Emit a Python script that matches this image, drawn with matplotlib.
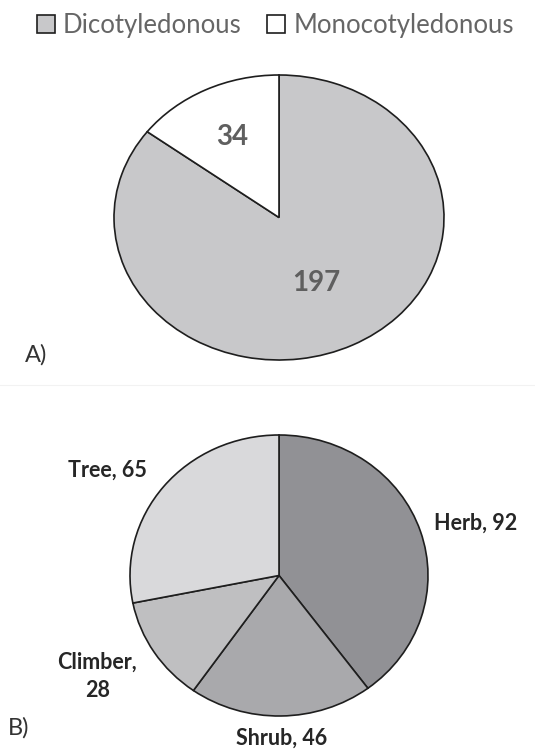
import numpy as np
import matplotlib
matplotlib.use('Agg')
from matplotlib import pyplot as plt

plt.rcParams['font.family'] = ['Lato', 'DejaVu Sans']

# 数据
cot_names = ['Dicotyledonous', 'Monocotyledonous']
cot_values = [197, 34]
cot_colors = ['#c8c8ca', '#ffffff']

habit_names = ['Herb', 'Shrub', 'Climber', 'Tree']
habit_values = [92, 46, 28, 65]
habit_colors = ['#919195', '#a9a9ac', '#bfbfc1', '#d9d9db']

W, H = 535, 751
fig = plt.figure(figsize=(W / 100, H / 100), dpi=100)

def box(x0, y0, x1, y1):
    # 像素坐标 -> figure 坐标
    return [x0 / W, 1 - y1 / H, (x1 - x0) / W, (y1 - y0) / H]

edge = dict(edgecolor='#1e1e1e', linewidth=1.2)

# A) 子叶类型
ax1 = fig.add_axes(box(114, 75, 444, 360))
w1, _ = ax1.pie(cot_values, colors=cot_colors, startangle=90, counterclock=False,
                wedgeprops=edge)
ax1.set_aspect('auto')
ax1.set_xlim(-1, 1)
ax1.set_ylim(-1, 1)
for w in w1:
    w.set_clip_on(False)
in_dist = [0.51, 0.63]
for w, v, d in zip(w1, cot_values, in_dist):
    a = np.deg2rad((w.theta1 + w.theta2) / 2)
    ax1.text(d * np.cos(a), d * np.sin(a), str(v), ha='center', va='center',
             fontsize=20, fontweight='bold', color='#5f5f5f')

fig.legend(w1, cot_names, loc='center', bbox_to_anchor=(0.515, 1 - 25 / H), ncol=2,
           frameon=False, fontsize=18.5, labelcolor='#666666', handlelength=0.7,
           handleheight=0.7, handletextpad=0.3, columnspacing=1.0)

# B) 生活型
ax2 = fig.add_axes(box(130, 435, 428, 716))
w2, _ = ax2.pie(habit_values, colors=habit_colors, startangle=90, counterclock=False,
                wedgeprops=edge)
ax2.set_aspect('auto')
ax2.set_xlim(-1, 1)
ax2.set_ylim(-1, 1)
for w in w2:
    w.set_clip_on(False)
lab_pos = [(1.32, 0.37), (0.02, -1.16), (-1.22, -0.72), (-1.15, 0.75)]
for n, v, (x, y) in zip(habit_names, habit_values, lab_pos):
    s = '%s, %d' % (n, v)
    if n == 'Climber':
        s = '%s,\n%d' % (n, v)
    ax2.text(x, y, s, ha='center', va='center', fontsize=15.5, fontweight='bold',
             color='#262626', linespacing=1.45)

fig.text(25 / W, 1 - 355 / H, 'A)', fontsize=17, color='#333333', va='center')
fig.text(8 / W, 1 - 728 / H, 'B)', fontsize=17, color='#333333', va='center')
fig.add_artist(plt.Line2D([0, 1], [1 - 385 / H] * 2, color='#f2f2f2', linewidth=0.8))

fig.savefig('out.png', dpi=100)
